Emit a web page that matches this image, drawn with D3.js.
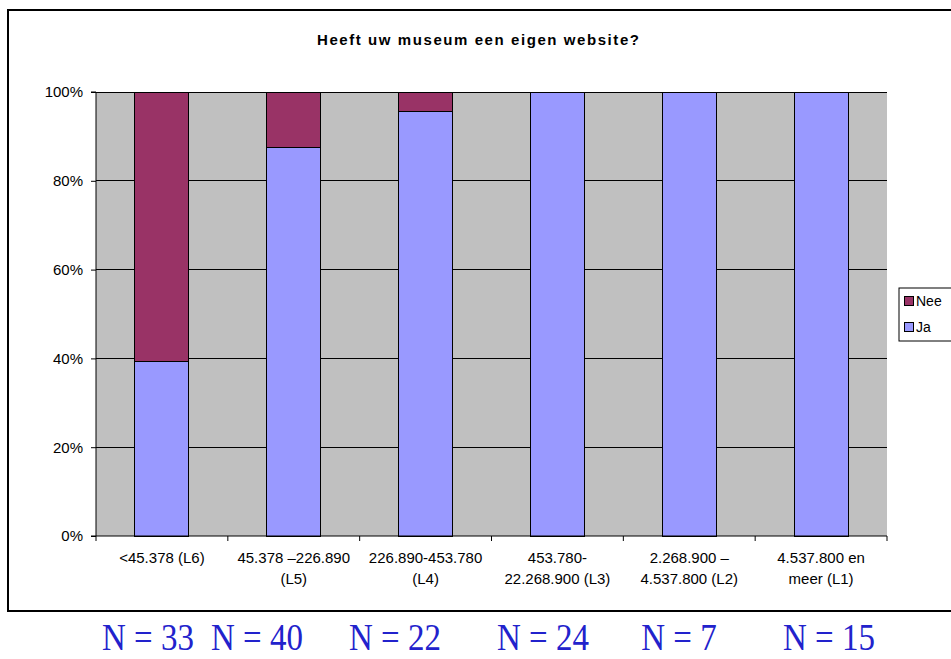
<!DOCTYPE html>
<html><head><meta charset="utf-8">
<script src="https://cdn.jsdelivr.net/npm/d3@7"></script>
<style>html,body{margin:0;padding:0;background:#fff;}svg{display:block;}</style>
</head><body>
<svg id="c" width="951" height="659"></svg>
<script>
const categories = [
  ["<45.378 (L6)"],
  ["45.378 \u2013226.890", "(L5)"],
  ["226.890-453.780", "(L4)"],
  ["453.780-", "22.268.900 (L3)"],
  ["2.268.900 \u2013", "4.537.800 (L2)"],
  ["4.537.800 en", "meer (L1)"]
];
const jaValues = [39.4, 87.5, 95.5, 100, 100, 100];
const neeValues = [60.6, 12.5, 4.5, 0, 0, 0];
const nLabels = ["N = 33", "N = 40", "N = 22", "N = 24", "N = 7", "N = 15"];
const yTicks = [0, 20, 40, 60, 80, 100];
const seriesNames = ["Nee", "Ja"];
const colors = {Nee: "#993366", Ja: "#9999FF"};

const svg = d3.select("#c");
const plot = {l: 96, r: 887, t: 92, b: 536};
const sans = "Arial, 'Liberation Sans', sans-serif";

// outer frame
svg.append("rect").attr("x", 8).attr("y", 10).attr("width", 950).attr("height", 601)
  .attr("fill", "none").attr("stroke", "#000").attr("stroke-width", 2);

// title
svg.append("text").attr("x", 478).attr("y", 45).attr("text-anchor", "middle")
  .attr("font-family", sans).attr("font-weight", "bold")
  .attr("font-size", 15).attr("textLength", 322).attr("lengthAdjust", "spacing")
  .text("Heeft uw museum een eigen website?");

const idx = categories.map((d, i) => i);
const x = d3.scaleBand().domain(idx).range([plot.l, plot.r]).paddingInner(0.59).paddingOuter(0.295);
const xo = d3.scaleBand().domain(idx).range([plot.l, plot.r]);
const y = d3.scaleLinear().domain([0, 100]).range([plot.b, plot.t]);

// plot bg
svg.append("rect").attr("x", plot.l).attr("y", plot.t).attr("width", plot.r - plot.l)
  .attr("height", plot.b - plot.t).attr("fill", "#C0C0C0");

// gridlines
svg.append("g").selectAll("line").data(yTicks.filter(d => d > 0)).join("line")
  .attr("x1", plot.l).attr("x2", plot.r).attr("y1", d => y(d)).attr("y2", d => y(d))
  .attr("stroke", "#000").attr("stroke-width", 1).attr("shape-rendering", "crispEdges");

// stacked bars
const rows = idx.map(i => ({i, Ja: jaValues[i], Nee: neeValues[i]}));
const stack = d3.stack().keys(["Ja", "Nee"])(rows);
svg.append("g").selectAll("g").data(stack).join("g")
  .attr("fill", s => colors[s.key])
  .selectAll("rect").data(s => s.filter(d => d[1] - d[0] > 0)).join("rect")
  .attr("x", d => x(d.data.i)).attr("width", x.bandwidth())
  .attr("y", d => y(d[1])).attr("height", d => y(d[0]) - y(d[1]))
  .attr("stroke", "#000").attr("stroke-width", 1).attr("shape-rendering", "crispEdges");

// y axis
const yAxis = d3.axisLeft(y).tickValues(yTicks).tickFormat(d => d + "%").tickSize(5).tickPadding(8);
const gy = svg.append("g").attr("transform", `translate(${plot.l},0)`).call(yAxis);
gy.select(".domain").attr("stroke", "#000").attr("d", `M-5,${plot.t}H0V${plot.b}H-5`);
gy.selectAll("line").attr("stroke", "#000");
gy.selectAll("text").attr("font-family", sans).attr("font-size", 15).attr("fill", "#000");

// x axis
const gx = svg.append("g").attr("transform", `translate(0,${plot.b})`);
gx.append("line").attr("x1", plot.l).attr("x2", plot.r).attr("y1", 0).attr("y2", 0).attr("stroke", "#000");
const bounds = idx.map(i => xo(i)).concat([plot.r]);
gx.selectAll("line.t").data(bounds).join("line").attr("class", "t")
  .attr("x1", d => d).attr("x2", d => d).attr("y1", 0).attr("y2", 5).attr("stroke", "#000");
gx.selectAll("text.c").data(idx).join("text").attr("class", "c")
  .attr("text-anchor", "middle")
  .attr("font-family", sans).attr("font-size", 15)
  .each(function(i) {
    const t = d3.select(this);
    categories[i].forEach((line, k) => {
      t.append("tspan").attr("x", xo(i) + xo.bandwidth() / 2).attr("y", 27 + k * 21).text(line);
    });
  });

// legend
const lg = svg.append("g");
lg.append("rect").attr("x", 899).attr("y", 288).attr("width", 60).attr("height", 53)
  .attr("fill", "#fff").attr("stroke", "#000").attr("stroke-width", 1);
seriesNames.forEach((s, k) => {
  lg.append("rect").attr("x", 904.5).attr("y", 296.5 + k * 26).attr("width", 9).attr("height", 9)
    .attr("fill", colors[s]).attr("stroke", "#000").attr("stroke-width", 1);
  lg.append("text").attr("x", 916).attr("y", 306 + k * 26)
    .attr("font-family", sans).attr("font-size", 14).text(s);
});

// N labels
const nx = [148, 257, 395, 543, 679, 829];
svg.append("g").selectAll("text").data(nLabels).join("text")
  .attr("transform", (d, i) => `translate(${nx[i]},650) scale(1,1.12)`)
  .attr("text-anchor", "middle")
  .attr("font-family", "'Liberation Serif', 'Times New Roman', serif").attr("font-size", 33)
  .attr("fill", "#2222CC").text(d => d);
</script>
</body></html>
